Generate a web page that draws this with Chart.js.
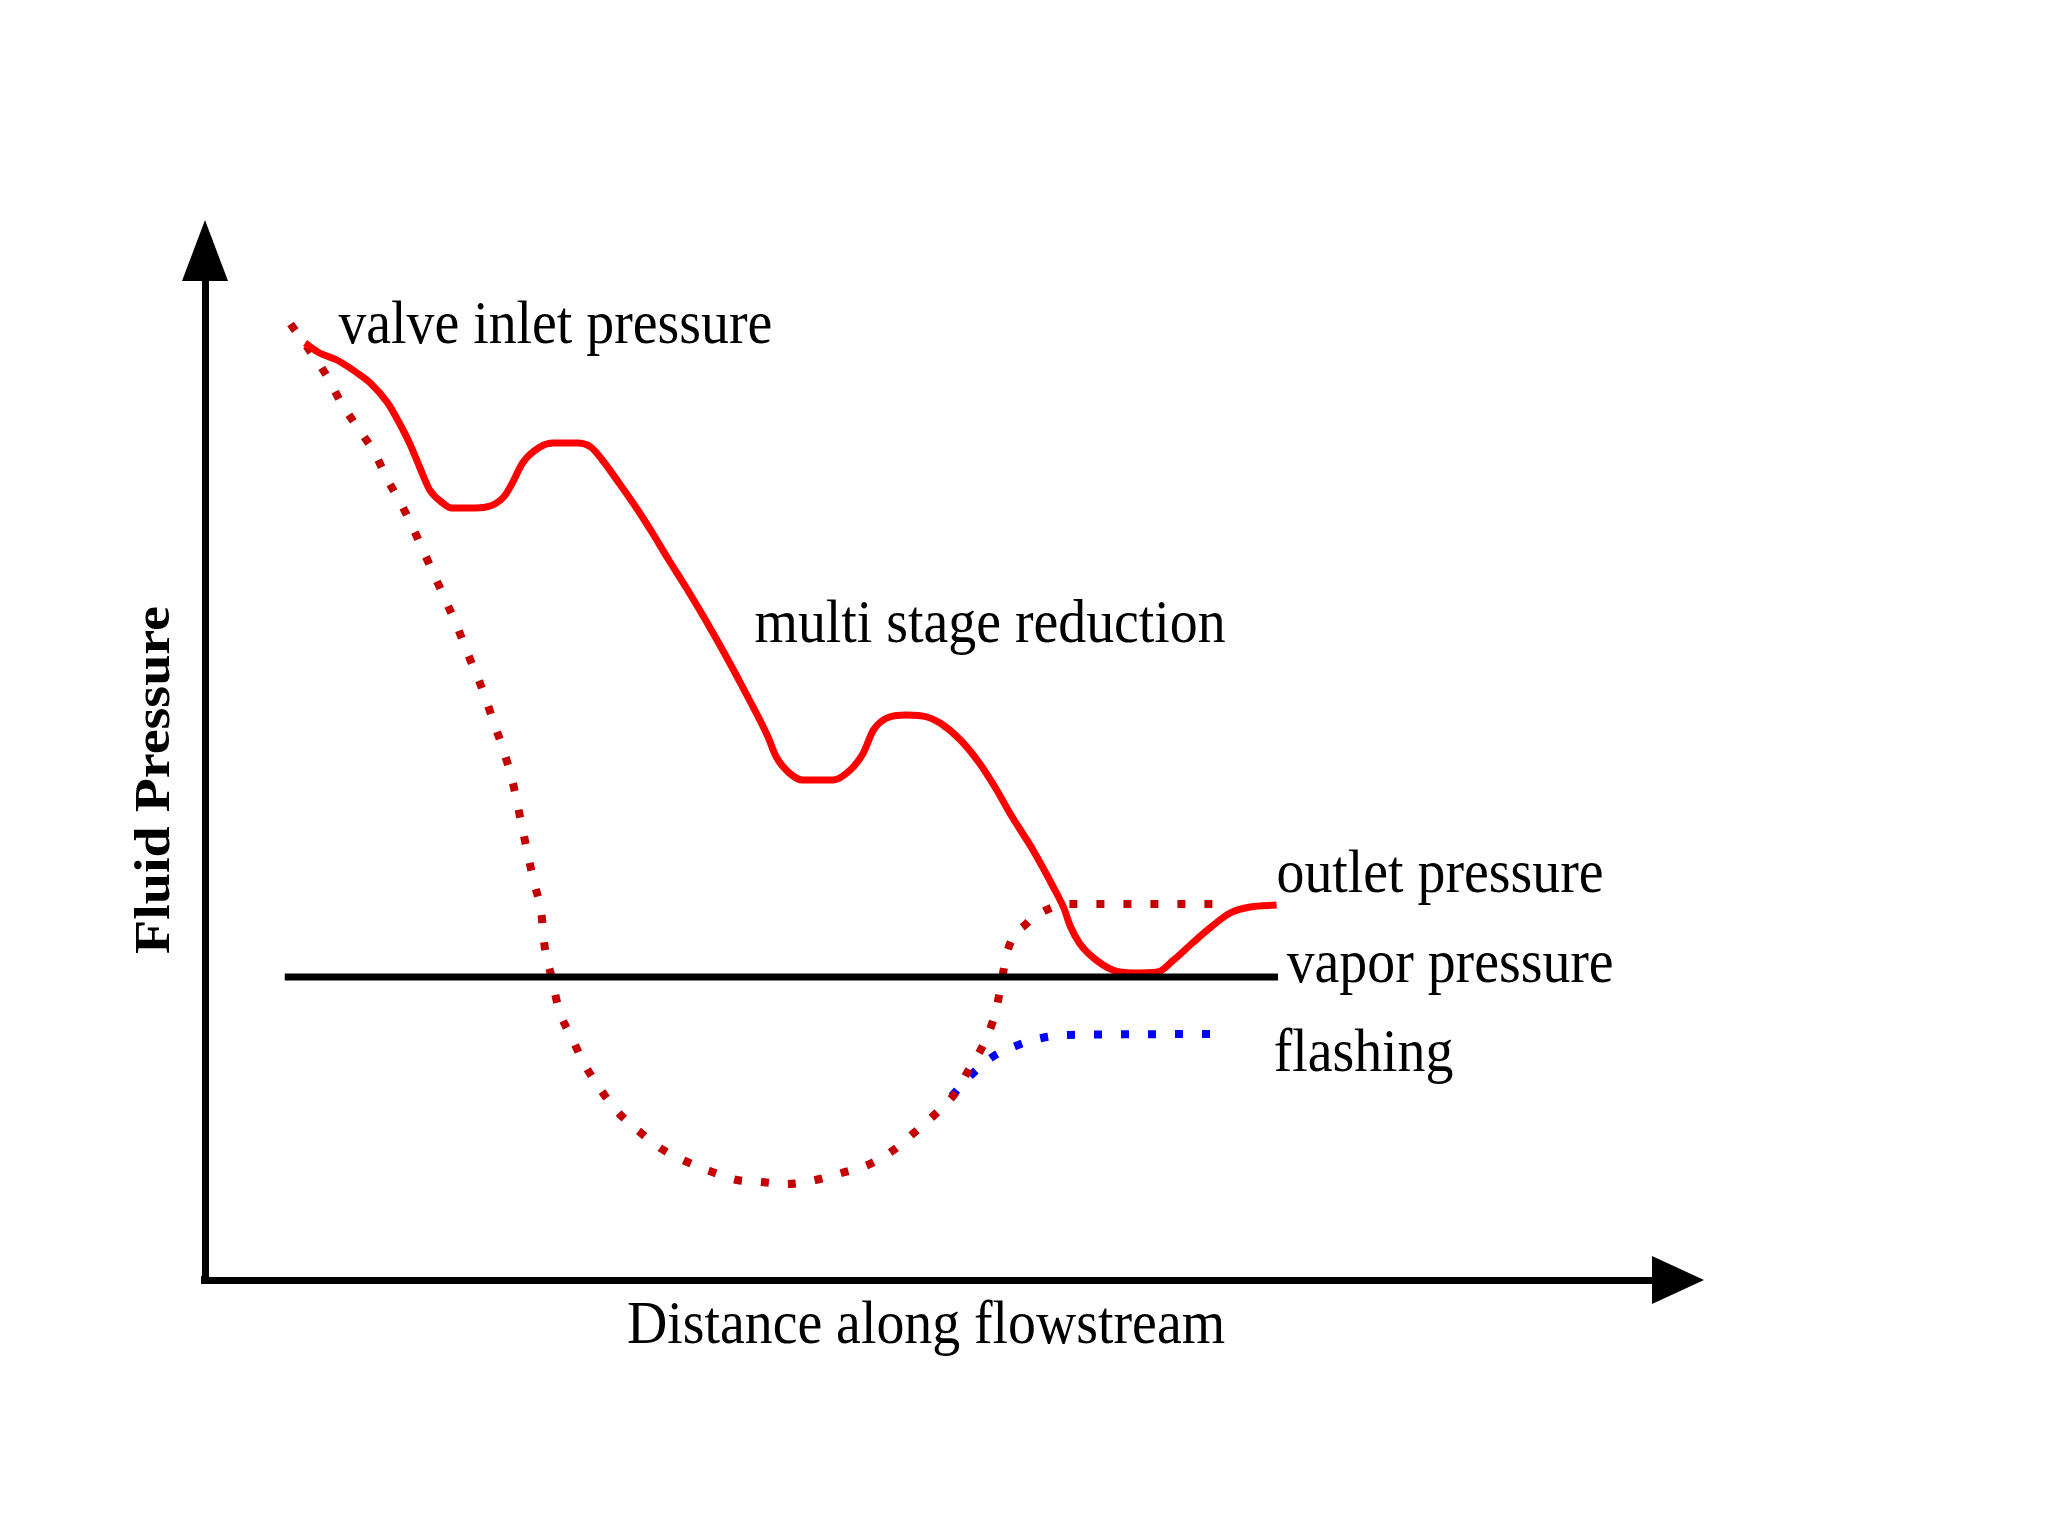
<!DOCTYPE html>
<html>
<head>
<meta charset="utf-8">
<title>Fluid pressure along the flowstream</title>
<script src="https://cdn.jsdelivr.net/npm/chart.js@4.4.1/dist/chart.umd.min.js"></script>
<style>
  html, body { margin: 0; padding: 0; background: #fff; }
  #wrap { width: 2048px; height: 1536px; }
</style>
</head>
<body>
<div id="wrap"><canvas id="pressureChart"></canvas></div>
<script>
// distance along flowstream (x) vs fluid pressure (y), both in arbitrary units 0-100
const multiStageX = [6.9, 7.9, 9.1, 10.5, 11.4, 12.6, 13.4, 14.1, 14.8, 15.5, 16.4, 17.0, 18.3, 19.4, 20.6, 21.2, 21.9, 23.1, 24.0, 25.7, 26.6, 27.4, 28.6, 29.8, 30.9, 31.9, 33.2, 34.6, 36.0, 37.4, 38.8, 39.4, 40.3, 41.2, 43.3, 44.5, 45.4, 46.1, 47.2, 48.4, 49.8, 50.7, 52.1, 53.4, 54.6, 55.5, 57.1, 58.5, 59.2, 59.7, 60.3, 61.2, 62.6, 64.0, 65.7, 66.8, 68.1, 69.3, 70.7, 72.1, 73.9];
const multiStageY = [93.7, 92.7, 92.0, 90.7, 89.7, 87.7, 85.7, 83.7, 81.3, 79.0, 77.7, 77.2, 77.2, 77.3, 78.3, 79.7, 81.7, 83.3, 83.7, 83.7, 83.3, 82.0, 79.6, 77.1, 74.6, 72.2, 69.2, 65.8, 62.2, 58.4, 54.4, 52.3, 50.7, 50.0, 50.0, 51.0, 52.7, 55.0, 56.3, 56.5, 56.3, 55.7, 54.0, 51.7, 49.0, 46.7, 43.0, 39.3, 37.3, 35.3, 33.7, 32.3, 31.0, 30.7, 30.8, 32.0, 33.7, 35.2, 36.7, 37.3, 37.5];

// single stage drop (dotted), ends on the outlet pressure level
const singleStageX = [5.9, 8.4, 9.4, 10.5, 11.7, 12.6, 13.6, 14.5, 15.4, 16.3, 17.4, 18.3, 19.2, 19.9, 20.6, 21.2, 21.8, 22.2, 22.7, 23.2, 23.4, 23.9, 24.4, 25.3, 26.2, 27.3, 28.4, 29.9, 31.5, 33.1, 34.8, 36.7, 38.3, 40.1, 42.1, 43.9, 45.7, 47.3, 48.8, 50.3, 51.8, 52.7, 53.7, 54.5, 54.9, 55.3, 56.7, 58.5, 59.2, 70.6];
const singleStageY = [95.6, 90.4, 87.7, 85.3, 82.7, 80.0, 77.4, 74.7, 71.8, 68.9, 65.3, 62.0, 58.8, 55.8, 52.9, 49.9, 45.8, 43.0, 39.7, 36.6, 33.6, 30.3, 27.1, 24.2, 21.5, 19.0, 16.9, 14.9, 13.1, 11.9, 10.9, 10.0, 9.8, 9.6, 10.0, 10.7, 11.5, 12.8, 14.6, 16.5, 18.8, 21.1, 23.6, 26.7, 29.5, 32.7, 35.7, 37.3, 37.6, 37.6];

const flashingX = [51.5, 52.7, 54.3, 55.9, 57.7, 59.5, 70.6];
const flashingY = [18.4, 20.3, 22.3, 23.4, 24.2, 24.5, 24.6];

const vaporX = [5.5, 74.0];
const vaporY = [30.3, 30.3];

const curveNotes = ['valve inlet pressure', 'multi stage reduction', 'outlet pressure', 'vapor pressure', 'flashing'];
const xTitle = 'Distance along flowstream';
const yTitle = 'Fluid Pressure';

// where each note sits, in chart units (left edge, baseline)
const noteAnchors = [[9.2, 93.7], [37.9, 63.8], [73.9, 38.8], [74.6, 29.8], [73.7, 20.9]];

const toPoints = (xs, ys) => xs.map((x, i) => ({ x, y: ys[i] }));

const annotate = {
  id: 'annotate',
  afterDraw(chart) {
    const { ctx, chartArea: a, scales: { x, y } } = chart;
    ctx.save();
    ctx.fillStyle = '#000';

    // axis arrow heads + the corner square
    ctx.beginPath();
    ctx.moveTo(a.left - 23, a.top + 1);
    ctx.lineTo(a.left + 23, a.top + 1);
    ctx.lineTo(a.left, a.top - 60);
    ctx.closePath();
    ctx.fill();
    ctx.beginPath();
    ctx.moveTo(a.right - 3, a.bottom - 24);
    ctx.lineTo(a.right - 3, a.bottom + 24);
    ctx.lineTo(a.right + 49, a.bottom);
    ctx.closePath();
    ctx.fill();
    ctx.fillRect(a.left - 4, a.bottom - 4, 8, 8);

    // curve notes
    ctx.font = '62px "Liberation Serif"';
    ctx.textBaseline = 'alphabetic';
    ctx.textAlign = 'left';
    curveNotes.forEach((text, i) => {
      const [vx, vy] = noteAnchors[i];
      ctx.save();
      ctx.translate(x.getPixelForValue(vx), y.getPixelForValue(vy));
      ctx.scale(0.9, 1);
      ctx.fillText(text, 0, 0);
      ctx.restore();
    });

    // axis titles
    ctx.textAlign = 'center';
    ctx.save();
    ctx.translate((a.left + a.right) / 2 - 4, a.bottom + 63);
    ctx.scale(0.9, 1);
    ctx.fillText(xTitle, 0, 0);
    ctx.restore();

    ctx.font = 'bold 50px "Liberation Serif"';
    ctx.save();
    ctx.translate(a.left - 36, (a.top + a.bottom) / 2);
    ctx.rotate(-Math.PI / 2);
    ctx.scale(1.12, 1);
    ctx.fillText(yTitle, 0, 0);
    ctx.restore();

    ctx.restore();
  }
};

const baseAxis = {
  type: 'linear',
  min: 0,
  max: 100,
  grid: { display: false },
  ticks: { display: false },
  border: { display: true, color: '#000', width: 7 }
};

new Chart(document.getElementById('pressureChart'), {
  type: 'line',
  data: {
    datasets: [
      {
        label: 'vapor pressure',
        data: toPoints(vaporX, vaporY),
        borderColor: '#000000',
        borderWidth: 7,
        pointRadius: 0,
      },
      {
        label: 'multi stage reduction',
        data: toPoints(multiStageX, multiStageY),
        borderColor: '#ff0000',
        borderWidth: 7,
        pointRadius: 0,
        cubicInterpolationMode: 'monotone',
      },
      {
        label: 'single stage',
        data: toPoints(singleStageX, singleStageY),
        borderColor: '#c40000',
        borderWidth: 8,
        borderDash: [8, 19],
        borderCapStyle: 'butt',
        pointRadius: 0,
        cubicInterpolationMode: 'monotone',
      },
      {
        label: 'flashing',
        data: toPoints(flashingX, flashingY),
        borderColor: '#0000ff',
        borderWidth: 8,
        borderDash: [8, 19],
        borderCapStyle: 'butt',
        pointRadius: 0,
        cubicInterpolationMode: 'monotone',
      },
    ],
  },
  options: {
    responsive: true,
    maintainAspectRatio: false,
    animation: false,
    events: [],
    layout: { padding: { left: 205, right: 393, top: 280, bottom: 256 } },
    scales: {
      x: { ...baseAxis, afterFit: (scale) => { scale.height = 0; } },
      y: { ...baseAxis, afterFit: (scale) => { scale.width = 0; } },
    },
    plugins: { legend: { display: false }, tooltip: { enabled: false } },
  },
  plugins: [annotate],
});
</script>
</body>
</html>
